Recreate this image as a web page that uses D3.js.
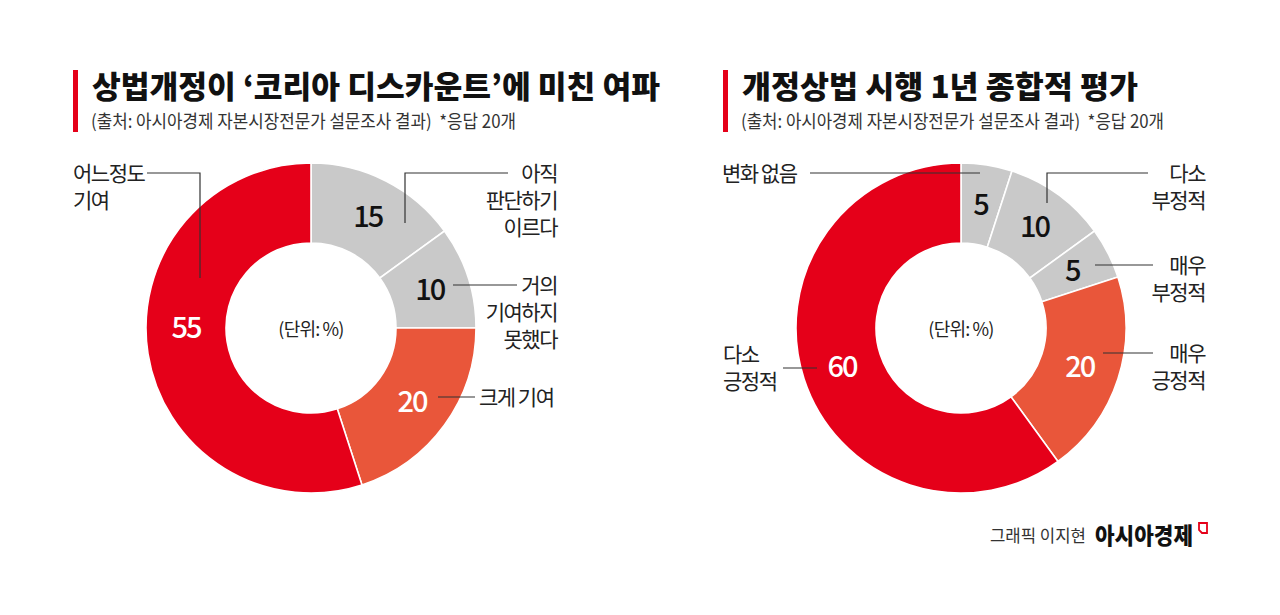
<!DOCTYPE html>
<html>
<head>
<meta charset="utf-8">
<script src="https://cdn.jsdelivr.net/npm/d3@7"></script>
<style>
  html, body { margin: 0; padding: 0; background: #fff; }
  svg { display: block; font-family: "Noto Sans CJK KR", "Noto Sans", sans-serif; }
</style>
</head>
<body>
<div id="chart"></div>
<script>
// 데이터 -----------------------------------------------------------------
const leftTitle = '상법개정이 ‘코리아 디스카운트’에 미친 여파';
const rightTitle = '개정상법 시행 1년 종합적 평가';
const sourceText = '(출처: 아시아경제 자본시장전문가 설문조사 결과)  *응답 20개';
const unitText = '(단위: %)';

const leftCategories = ['아직 판단하기 이르다', '거의 기여하지 못했다', '크게 기여', '어느정도 기여'];
const leftValues = [15, 10, 20, 55];
const leftLabelLines = [['아직', '판단하기', '이르다'], ['거의', '기여하지', '못했다'], ['크게 기여'], ['어느정도', '기여']];
const leftTones = ['none', 'none', 'strong', 'some'];

const rightCategories = ['변화 없음', '다소 부정적', '매우 부정적', '매우 긍정적', '다소 긍정적'];
const rightValues = [5, 10, 5, 20, 60];
const rightLabelLines = [['변화 없음'], ['다소', '부정적'], ['매우', '부정적'], ['매우', '긍정적'], ['다소', '긍정적']];
const rightTones = ['none', 'none', 'none', 'strong', 'some'];

// 크기 ---------------------------------------------------------------------
const width = 1280;
const height = 615;
const innerR = 85;
const outerR = 165;
const numR = 125;

const color = d3.scaleOrdinal()
  .domain(['none', 'strong', 'some'])
  .range(['#c9c9c9', '#e9563a', '#e50019']);

const svg = d3.select('#chart').append('svg')
  .attr('width', width)
  .attr('height', height)
  .attr('viewBox', '0 0 ' + width + ' ' + height);

svg.append('rect').attr('width', width).attr('height', height).attr('fill', '#fff');

// 제목 ---------------------------------------------------------------------
const header = (x, title, titleLen, subLen) => {
  svg.append('rect')
    .attr('x', x).attr('y', 70)
    .attr('width', 5).attr('height', 62)
    .attr('fill', '#e50019');
  svg.append('text')
    .attr('x', x + 19).attr('y', 98)
    .attr('font-size', '31px')
    .attr('font-weight', 900)
    .attr('fill', '#111')
    .attr('textLength', titleLen)
    .attr('lengthAdjust', 'spacingAndGlyphs')
    .text(title);
  svg.append('text')
    .attr('x', x + 18).attr('y', 128)
    .attr('font-size', '18px')
    .attr('fill', '#333')
    .attr('textLength', subLen)
    .attr('lengthAdjust', 'spacingAndGlyphs')
    .style('white-space', 'pre')
    .text(sourceText);
};

// 도넛 ---------------------------------------------------------------------
const donut = (cfg) => {
  const g = svg.append('g').attr('transform', 'translate(' + cfg.cx + ',' + cfg.cy + ')');
  const data = cfg.values.map((v, i) => ({ value: v, cat: cfg.categories[i], tone: cfg.tones[i], lines: cfg.lines[i] }));
  const pie = d3.pie().sort(null).value(d => d.value);
  const arcs = pie(data);
  const arc = d3.arc().innerRadius(innerR).outerRadius(outerR);

  g.selectAll('path.slice')
    .data(arcs)
    .enter()
    .append('path')
    .attr('class', 'slice')
    .attr('d', arc)
    .attr('fill', d => color(d.data.tone))
    .attr('stroke', '#fff')
    .attr('stroke-width', 1.6);

  // 중앙 단위
  g.append('text')
    .attr('x', 0).attr('y', 2)
    .attr('dy', '0.35em')
    .attr('text-anchor', 'middle')
    .attr('font-size', '18px')
    .attr('fill', '#222')
    .attr('letter-spacing', '-0.8px')
    .text(unitText);

  // 값 라벨
  const numArc = d3.arc().innerRadius(numR).outerRadius(numR);
  arcs.forEach((d, i) => {
    let p = numArc.centroid(d);
    if (cfg.numAngle && cfg.numAngle[i] !== undefined) {
      const a = cfg.numAngle[i];
      p = [numR * Math.sin(a), -numR * Math.cos(a)];
    }
    g.append('text')
      .attr('x', p[0]).attr('y', p[1])
      .attr('dy', '0.35em')
      .attr('text-anchor', 'middle')
      .attr('font-size', '29px')
      .attr('font-weight', 500)
      .attr('letter-spacing', '-2px')
      .attr('fill', d.data.tone === 'none' ? '#111' : '#fff')
      .text(d.data.value);
  });

  // 지시선 + 항목 라벨
  cfg.notes.forEach((n, i) => {
    svg.append('path')
      .attr('d', d3.line()(n.path))
      .attr('fill', 'none')
      .attr('stroke', '#333')
      .attr('stroke-width', 1.2);
    const t = svg.append('text')
      .attr('text-anchor', n.anchor)
      .attr('font-size', '21px')
      .attr('letter-spacing', '-1.5px')
      .attr('fill', '#222');
    data[i].lines.forEach((line, k) => {
      t.append('tspan')
        .attr('x', n.x)
        .attr('y', n.y + k * 27)
        .attr('dy', '0.35em')
        .text(line);
    });
  });
};

header(73, leftTitle, 568, 425);
header(723, rightTitle, 396, 423);

donut({
  cx: 311, cy: 328,
  categories: leftCategories, values: leftValues, tones: leftTones, lines: leftLabelLines,
  numAngle: { 3: -Math.PI / 2 },
  notes: [
    { path: [[405, 223], [405, 173], [508, 173]], x: 557, y: 174, anchor: 'end' },
    { path: [[453, 285], [517, 285]], x: 557, y: 286, anchor: 'end' },
    { path: [[438, 397], [475, 397]], x: 479, y: 398, anchor: 'start' },
    { path: [[200, 278], [200, 173], [147, 173]], x: 73, y: 174, anchor: 'start' }
  ]
});

donut({
  cx: 961, cy: 328,
  categories: rightCategories, values: rightValues, tones: rightTones, lines: rightLabelLines,
  notes: [
    { path: [[810, 173], [980, 173]], x: 722, y: 174, anchor: 'start' },
    { path: [[1047, 203], [1047, 173], [1148, 173]], x: 1205, y: 174, anchor: 'end' },
    { path: [[1095, 265], [1153, 265]], x: 1205, y: 266, anchor: 'end' },
    { path: [[1103, 353], [1153, 353]], x: 1205, y: 354, anchor: 'end' },
    { path: [[783, 368], [817, 368]], x: 723, y: 355, anchor: 'start' }
  ]
});

// 출처 서명 -----------------------------------------------------------------
svg.append('text')
  .attr('x', 990).attr('y', 542)
  .attr('font-size', '17px')
  .attr('fill', '#333')
  .attr('textLength', 96)
  .attr('lengthAdjust', 'spacingAndGlyphs')
  .text('그래픽 이지현');
svg.append('text')
  .attr('x', 1095).attr('y', 544)
  .attr('font-size', '23px')
  .attr('font-weight', 900)
  .attr('fill', '#111')
  .attr('textLength', 98)
  .attr('lengthAdjust', 'spacingAndGlyphs')
  .text('아시아경제');
svg.append('path')
  .attr('d', 'M1199,523 H1207 V533 H1202 L1199,530 Z')
  .attr('fill', 'none')
  .attr('stroke', '#e50019')
  .attr('stroke-width', 1.8);
</script>
</body>
</html>
